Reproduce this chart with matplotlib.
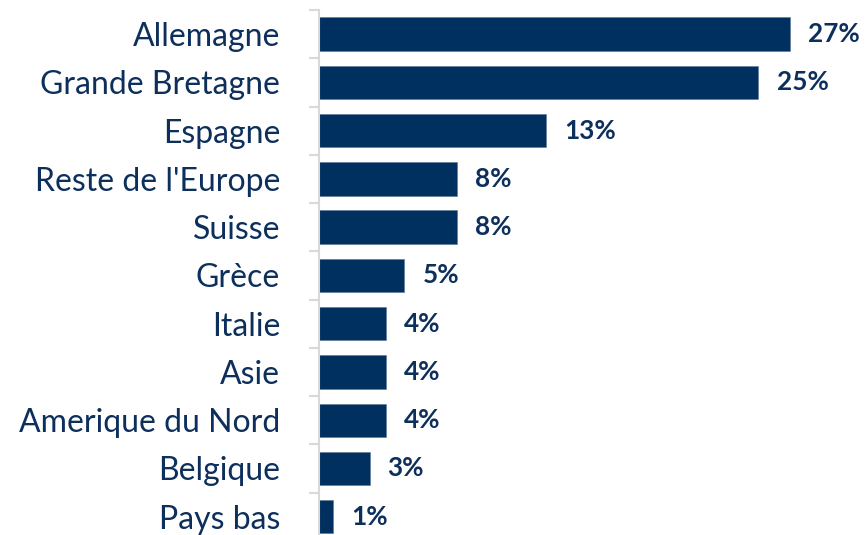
import matplotlib
matplotlib.use("Agg")
import matplotlib.pyplot as plt
import numpy as np

# Données (part en %)
pays = ['Allemagne', 'Grande Bretagne', 'Espagne', "Reste de l'Europe", 'Suisse',
        'Grèce', 'Italie', 'Asie', 'Amerique du Nord', 'Belgique', 'Pays bas']
parts = [27.0, 25.2, 13.0, 7.9, 7.9, 4.9, 3.85, 3.85, 3.85, 2.9, 0.8]

BLEU = '#003060'
TEXTE = '#0d2f5c'
GRIS = '#d9d9d9'

plt.rcParams['font.family'] = ['Lato', 'DejaVu Sans']

fig = plt.figure(figsize=(8.66, 5.35), dpi=100)
# axe : x de 319 px à 866 px, y de 10 px (haut) à 535 px (bas)
ax = fig.add_axes([319 / 866, 0, 547 / 866, 525 / 535])

y = np.arange(len(pays))
ax.barh(y, parts, height=0.69, color=BLEU, edgecolor='#5a7597', linewidth=0.4)

ax.set_xlim(0, 547 / 17.44)
ax.set_ylim(10.38, -0.5)

# étiquettes des valeurs
for yi, v in zip(y, parts):
    ax.annotate(f'{v:.0f}%', xy=(v, yi), xytext=(13, 0), textcoords='offset points',
                va='center', ha='left', fontsize=18.8, fontweight='bold', color=TEXTE)

# axe gauche
ax.set_yticks(y)
ax.set_yticklabels(pays, fontsize=23, color=TEXTE)
ax.tick_params(axis='y', which='major', length=0, pad=28)
ax.set_yticks(np.arange(len(pays)) - 0.5, minor=True)
ax.tick_params(axis='y', which='minor', length=7, width=1.5, color=GRIS)
ax.set_xticks([])

for s in ['top', 'right', 'bottom']:
    ax.spines[s].set_visible(False)
ax.spines['left'].set_color(GRIS)
ax.spines['left'].set_linewidth(1.5)

fig.savefig('out.png', dpi=100)
